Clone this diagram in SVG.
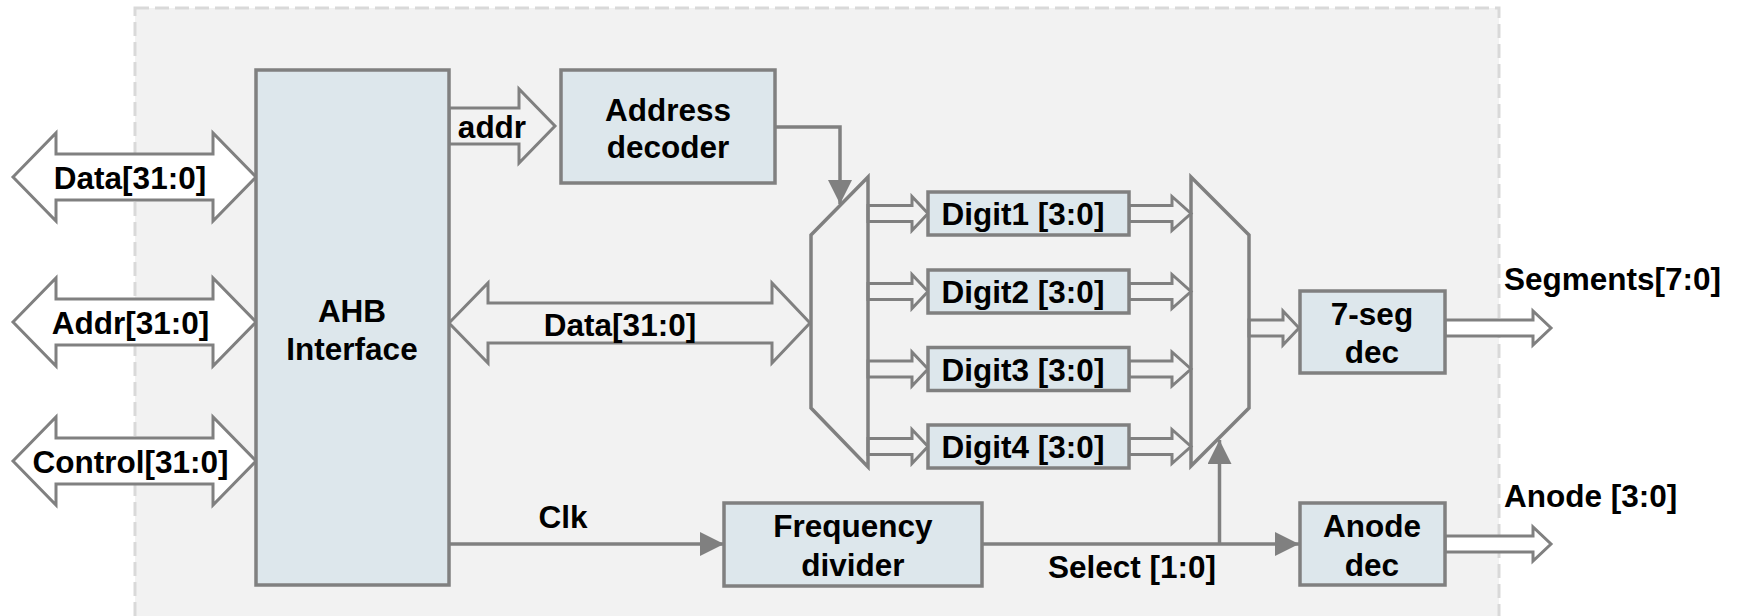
<svg xmlns="http://www.w3.org/2000/svg" width="1739" height="616" viewBox="0 0 1739 616">
<style>
.box{fill:#dde7ec;stroke:#808080;stroke-width:3.5}
.bus{fill:#ffffff;stroke:#808080;stroke-width:3;stroke-linejoin:miter}
.bus2{fill:#f2f2f2;stroke:#808080;stroke-width:3;stroke-linejoin:miter}
.mux{fill:none;stroke:#808080;stroke-width:3.5;stroke-linejoin:miter}
.wire{fill:none;stroke:#808080;stroke-width:3.5}
.t{font-family:"Liberation Sans",Arial,sans-serif;font-weight:bold;font-size:31.5px;fill:#000;text-anchor:middle}
.tl{font-family:"Liberation Sans",Arial,sans-serif;font-weight:bold;font-size:31.5px;fill:#000;text-anchor:start}
</style>
<defs>
<marker id="ah" viewBox="0 0 24 24" refX="24" refY="12" markerWidth="24" markerHeight="24" markerUnits="userSpaceOnUse" orient="auto">
<path d="M0,0 L24,12 L0,24 Z" fill="#808080"/>
</marker>
</defs>
<rect x="135" y="8" width="1364" height="620" fill="#f2f2f2" stroke="#d9d9d9" stroke-width="3" stroke-dasharray="14 6"/>

<g id="connectors">
<polygon class="bus" points="13,177 56,133 56,154 213,154 213,133 256,177 213,221 213,200 56,200 56,221"/>
<polygon class="bus" points="13,322 56,278 56,299 213,299 213,278 256,322 213,366 213,345 56,345 56,366"/>
<polygon class="bus" points="13,461 56,417 56,438 213,438 213,417 256,461 213,505 213,484 56,484 56,505"/>
<polygon class="bus2" points="449,108 519,108 519,89 555,126 519,163 519,144 449,144"/>
<polygon class="bus2" points="449,323 488,283 488,303 772,303 772,283 810,323 772,363 772,343 488,343 488,363"/>
<polyline class="wire" points="775,127 840,127 840,204" marker-end="url(#ah)"/>
<line class="wire" x1="449" y1="544" x2="724" y2="544" marker-end="url(#ah)"/>
<line class="wire" x1="982" y1="544" x2="1299" y2="544" marker-end="url(#ah)"/>
<line class="wire" x1="1219.5" y1="544" x2="1219.5" y2="440" marker-end="url(#ah)"/>
<polygon class="bus2" points="868,205.5 912,205.5 912,196.5 928,213.5 912,230.5 912,221.5 868,221.5"/>
<polygon class="bus2" points="868,283.5 912,283.5 912,274.5 928,291.5 912,308.5 912,299.5 868,299.5"/>
<polygon class="bus2" points="868,361 912,361 912,352 928,369 912,386 912,377 868,377"/>
<polygon class="bus2" points="868,438.5 912,438.5 912,429.5 928,446.5 912,463.5 912,454.5 868,454.5"/>
<polygon class="bus2" points="1129,205.5 1172,205.5 1172,196.5 1191,213.5 1172,230.5 1172,221.5 1129,221.5"/>
<polygon class="bus2" points="1129,283.5 1172,283.5 1172,274.5 1191,291.5 1172,308.5 1172,299.5 1129,299.5"/>
<polygon class="bus2" points="1129,361 1172,361 1172,352 1191,369 1172,386 1172,377 1129,377"/>
<polygon class="bus2" points="1129,438.5 1172,438.5 1172,429.5 1191,446.5 1172,463.5 1172,454.5 1129,454.5"/>
<polygon class="bus2" points="1249,320 1283,320 1283,311 1299,328 1283,345 1283,336 1249,336"/>
<polygon class="bus" points="1445,320 1533,320 1533,311 1551,328 1533,345 1533,336 1445,336"/>
<polygon class="bus" points="1445,536 1533,536 1533,527 1551,544 1533,561 1533,552 1445,552"/>
</g>

<g id="lbl-data-l"><text class="t" x="130" y="189">Data[31:0]</text></g>
<g id="lbl-addr-l"><text class="t" x="130.5" y="334">Addr[31:0]</text></g>
<g id="lbl-control-l"><text class="t" x="130.5" y="473">Control[31:0]</text></g>
<g id="lbl-addr"><text class="t" x="492" y="138">addr</text></g>
<g id="lbl-data-m"><text class="t" x="620" y="336">Data[31:0]</text></g>
<g id="lbl-clk"><text class="t" x="563" y="528">Clk</text></g>
<g id="lbl-select"><text class="t" x="1132" y="578">Select [1:0]</text></g>
<g id="lbl-segments"><text class="tl" x="1504" y="290">Segments[7:0]</text></g>
<g id="lbl-anode"><text class="tl" x="1504" y="507">Anode [3:0]</text></g>

<g id="ahb">
<rect class="box" x="256" y="70" width="193" height="515"/>
<text class="t" x="352" y="322">AHB</text>
<text class="t" x="352" y="360">Interface</text>
</g>
<g id="addrdec">
<rect class="box" x="561" y="70" width="214" height="113"/>
<text class="t" x="668" y="121">Address</text>
<text class="t" x="668" y="158">decoder</text>
</g>
<g id="mux1"><polygon class="mux" points="868,177 868,467 811,408 811,235"/></g>
<g id="mux2"><polygon class="mux" points="1191,177 1249,235 1249,408 1191,466"/></g>
<g id="digit1">
<rect class="box" x="928" y="192" width="201" height="43"/>
<text class="t" x="1023" y="225">Digit1 [3:0]</text>
</g>
<g id="digit2">
<rect class="box" x="928" y="270" width="201" height="43"/>
<text class="t" x="1023" y="303">Digit2 [3:0]</text>
</g>
<g id="digit3">
<rect class="box" x="928" y="347.5" width="201" height="43"/>
<text class="t" x="1023" y="380.5">Digit3 [3:0]</text>
</g>
<g id="digit4">
<rect class="box" x="928" y="425" width="201" height="43"/>
<text class="t" x="1023" y="458">Digit4 [3:0]</text>
</g>
<g id="sevenseg">
<rect class="box" x="1300" y="291" width="145" height="82"/>
<text class="t" x="1372" y="325">7-seg</text>
<text class="t" x="1372" y="363">dec</text>
</g>
<g id="freqdiv">
<rect class="box" x="724" y="503" width="258" height="83"/>
<text class="t" x="853" y="537">Frequency</text>
<text class="t" x="853" y="576">divider</text>
</g>
<g id="anodedec">
<rect class="box" x="1300" y="503" width="145" height="82"/>
<text class="t" x="1372" y="537">Anode</text>
<text class="t" x="1372" y="576">dec</text>
</g>
</svg>
